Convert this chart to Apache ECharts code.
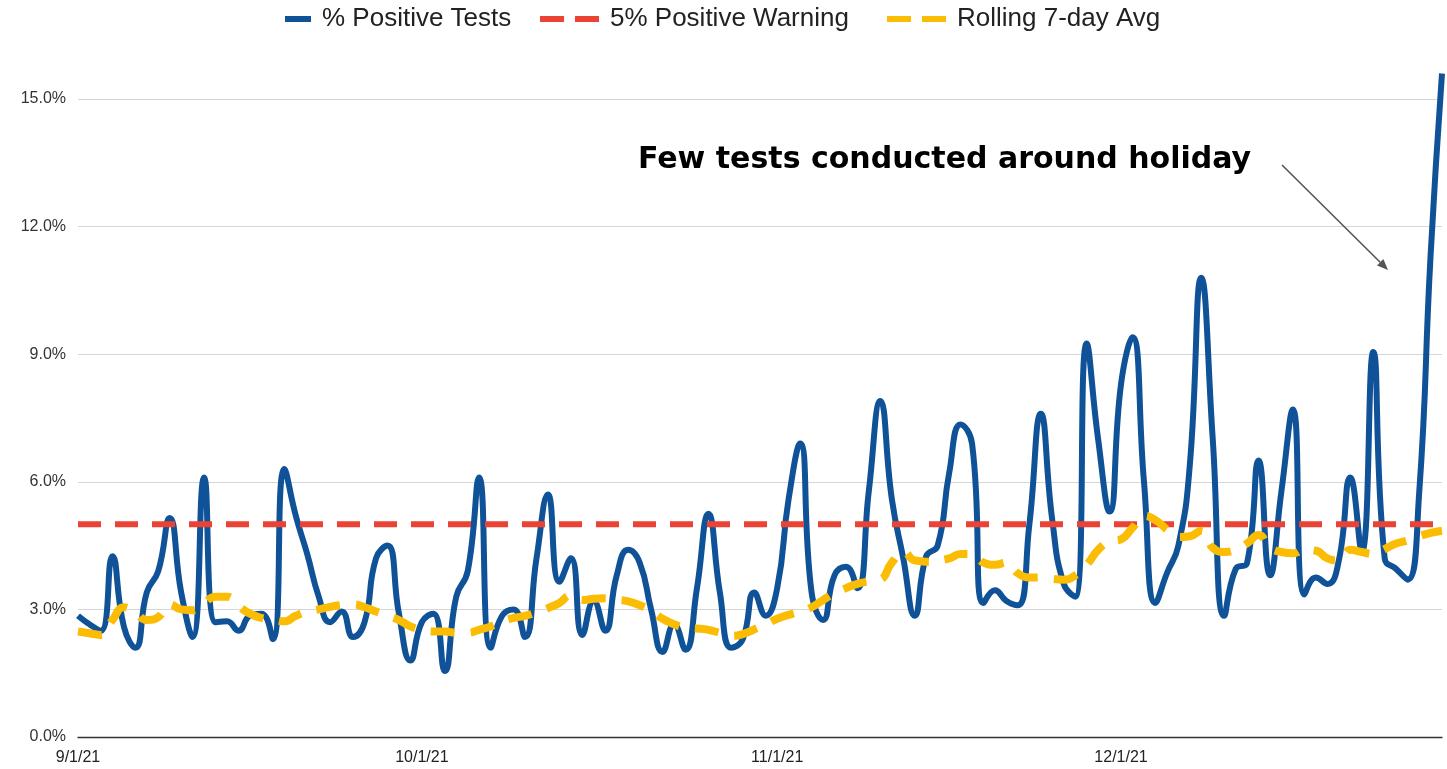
<!DOCTYPE html>
<html>
<head>
<meta charset="utf-8">
<script src="https://cdn.jsdelivr.net/npm/echarts@6/dist/echarts.min.js"></script>
<style>
  html, body { margin: 0; padding: 0; background: #ffffff; }
  #chart { width: 1447px; height: 769px; }
</style>
</head>
<body>
<div id="chart"></div>
<script>
// Daily share of positive tests (%), 9/1/21 - 12/29/21
const septPositive = [
  2.85, 2.65, 2.5, 4.25, 2.6, 2.1, 3.4, 3.9, 5.15, 3.4,
  2.35, 6.1, 2.7, 2.72, 2.5, 2.85, 2.9, 2.3, 6.3, 5.2,
  4.3, 3.3, 2.7, 2.95, 2.35, 2.7, 4.2, 4.5, 2.9, 1.8
];
const octPositive = [
  2.7, 2.9, 1.55, 3.3, 3.9, 6.1, 2.1, 2.85, 3.0, 2.35,
  4.2, 5.7, 3.65, 4.2, 2.4, 3.2, 2.5, 3.8, 4.4, 4.1,
  3.0, 2.0, 2.65, 2.05, 3.5, 5.25, 3.4, 2.1, 2.3, 3.4,
  2.85
];
const novPositive = [
  3.5, 5.6, 6.9, 3.4, 2.75, 3.8, 4.0, 3.5, 5.8, 7.9,
  5.6, 4.2, 2.85, 4.25, 4.5, 6.2, 7.35, 6.9, 3.15, 3.45,
  3.2, 3.1, 5.0, 7.6, 5.1, 3.6, 3.3, 9.25, 7.0, 5.3
];
const decPositive = [
  8.3, 9.4, 6.0, 3.15, 3.85, 4.5, 6.4, 10.8, 7.0, 2.85,
  3.95, 4.1, 6.5, 3.8, 5.8, 7.7, 3.35, 3.75, 3.6, 4.15,
  6.1, 4.35, 9.05, 4.2, 3.95, 3.7, 5.7, 11.3, 15.6
];

// Rolling 7-day average (%)
const septAvg = [
  2.48, 2.44, 2.4, 2.75, 3.05, 2.92, 2.75, 2.82, 3.12, 3.0,
  2.98, 3.15, 3.3, 3.3, 3.08, 2.9, 2.8, 2.76, 2.72, 2.85,
  2.95, 3.0, 3.06, 3.1, 3.12, 3.05, 2.95, 2.85, 2.75, 2.6
];
const octAvg = [
  2.52, 2.48, 2.48, 2.45, 2.45, 2.52, 2.6, 2.72, 2.8, 2.85,
  2.93, 3.03, 3.15, 3.33, 3.22, 3.25, 3.26, 3.23, 3.19, 3.1,
  2.97, 2.78, 2.65, 2.57, 2.55, 2.52, 2.45, 2.38, 2.42, 2.53,
  2.65
];
const novAvg = [
  2.78, 2.87, 2.95, 3.05, 3.22, 3.38, 3.5, 3.6, 3.66, 3.7,
  4.1, 4.35, 4.15, 4.12, 4.15, 4.2, 4.3, 4.3, 4.1, 4.05,
  4.1, 3.85, 3.75, 3.75, 3.72, 3.7, 3.8, 4.05, 4.4, 4.6
];
const decAvg = [
  4.65, 4.92, 5.2, 5.1, 4.88, 4.7, 4.72, 4.85, 4.45, 4.35,
  4.4, 4.55, 4.75, 4.45, 4.35, 4.32, 4.4, 4.38, 4.2, 4.15,
  4.4, 4.35, 4.3, 4.42, 4.55, 4.62, 4.72, 4.8, 4.85
];

const warningLevel = 5;           // 5% positive warning threshold
const yTickStep = 3;              // y ticks: 0.0% ... 15.0%
const yTickMax = 15;

const positiveRate = septPositive.concat(octPositive, novPositive, decPositive);
const rollingAvg = septAvg.concat(octAvg, novAvg, decAvg);

// one category per day, labelled m/d/21
const dates = [];
for (let i = 0; i < positiveRate.length; i++) {
  const d = new Date(2021, 8, 1 + i);
  dates.push((d.getMonth() + 1) + '/' + d.getDate() + '/21');
}
const warningLine = dates.map(() => warningLevel);

const BLUE = '#0f5298';
const RED = '#ea4335';
const YELLOW = '#fbbc04';

const chart = echarts.init(document.getElementById('chart'), null, { renderer: 'canvas' });

const legendText = {
  fontFamily: '"Liberation Sans", Arial, sans-serif',
  fontSize: 26,
  color: '#222222',
  padding: [0, 0, 0, 6]
};
const dashIcon = 'path://M0 0H24V6H0ZM35 0H59V6H35Z';

// annotation arrow geometry (pixels)
const arrowFrom = [1282, 165];
const arrowTo = [1388, 270];
const ax = arrowTo[0] - arrowFrom[0], ay = arrowTo[1] - arrowFrom[1];
const al = Math.sqrt(ax * ax + ay * ay);
const ux = ax / al, uy = ay / al;
const headLen = 11, headHalf = 4.5;
const baseX = arrowTo[0] - ux * headLen, baseY = arrowTo[1] - uy * headLen;

chart.setOption({
  animation: false,
  backgroundColor: '#ffffff',
  grid: { left: 78, right: 5, top: 99, bottom: 32, containLabel: false },
  legend: [
    {
      left: 285, top: 6, padding: 0, itemWidth: 26, itemHeight: 6,
      itemStyle: { borderWidth: 0 },
      data: [{ name: '% Positive Tests', icon: 'rect', itemStyle: { color: BLUE } }],
      textStyle: legendText
    },
    {
      left: 540, top: 6, padding: 0, itemWidth: 59, itemHeight: 6,
      itemStyle: { borderWidth: 0 },
      data: [{ name: '5% Positive Warning', icon: dashIcon, itemStyle: { color: RED } }],
      textStyle: legendText
    },
    {
      left: 887, top: 6, padding: 0, itemWidth: 59, itemHeight: 6,
      itemStyle: { borderWidth: 0 },
      data: [{ name: 'Rolling 7-day Avg', icon: dashIcon, itemStyle: { color: YELLOW } }],
      textStyle: legendText
    }
  ],
  xAxis: {
    type: 'category',
    data: dates,
    boundaryGap: false,
    axisLine: { lineStyle: { color: '#333333', width: 1.3 } },
    axisTick: { show: false },
    axisLabel: {
      interval: (idx, val) => /^\d+\/1\/21$/.test(val),
      color: '#222222',
      fontFamily: '"Liberation Sans", Arial, sans-serif',
      fontSize: 16,
      margin: 13
    },
    splitLine: { show: false }
  },
  yAxis: {
    type: 'value',
    min: 0,
    max: yTickMax,
    interval: yTickStep,
    axisLine: { show: false },
    axisTick: { show: false },
    axisLabel: {
      formatter: v => v.toFixed(1) + '%',
      color: '#333333',
      fontFamily: '"Liberation Sans", Arial, sans-serif',
      fontSize: 16,
      margin: 12
    },
    splitLine: { lineStyle: { color: '#d6d6d6', width: 1 } }
  },
  series: [
    {
      name: '% Positive Tests',
      type: 'line',
      data: positiveRate,
      smooth: 0.5,
      symbol: 'none',
      clip: false,
      lineStyle: { color: BLUE, width: 6 },
      itemStyle: { color: BLUE },
      z: 2
    },
    {
      name: '5% Positive Warning',
      type: 'line',
      data: warningLine,
      symbol: 'none',
      lineStyle: { color: RED, width: 6, type: [23, 14], cap: 'butt' },
      itemStyle: { color: RED },
      z: 3
    },
    {
      name: 'Rolling 7-day Avg',
      type: 'line',
      data: rollingAvg,
      smooth: 0.5,
      symbol: 'none',
      lineStyle: { color: YELLOW, width: 8, type: [24, 16], cap: 'butt' },
      itemStyle: { color: YELLOW },
      z: 4
    }
  ],
  graphic: [
    {
      type: 'text',
      left: 638,
      top: 145,
      style: {
        text: 'Few tests conducted around holiday',
        font: 'bold 30px "DejaVu Sans", sans-serif',
        fill: '#000000'
      },
      z: 10
    },
    {
      type: 'line',
      shape: { x1: arrowFrom[0], y1: arrowFrom[1], x2: baseX, y2: baseY },
      style: { stroke: '#555555', lineWidth: 1.6 },
      z: 10
    },
    {
      type: 'polygon',
      shape: {
        points: [
          [arrowTo[0], arrowTo[1]],
          [baseX - uy * headHalf, baseY + ux * headHalf],
          [baseX + uy * headHalf, baseY - ux * headHalf]
        ]
      },
      style: { fill: '#555555' },
      z: 10
    }
  ]
});
</script>
</body>
</html>
